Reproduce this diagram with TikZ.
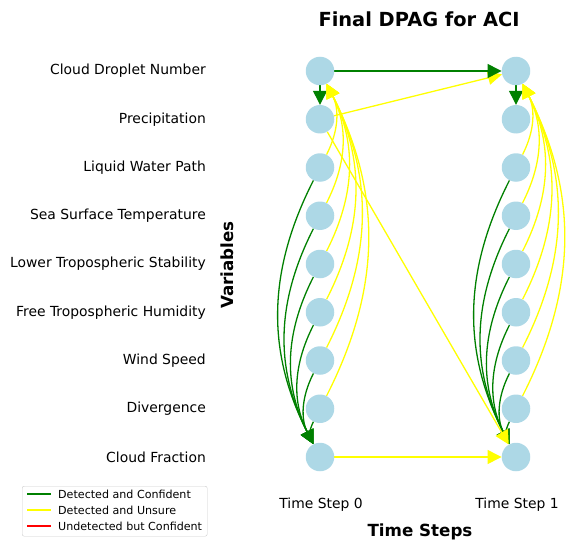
\documentclass[tikz,border=0pt]{standalone}
\usepackage{fontspec}
\setmainfont{DejaVu Sans}
\usetikzlibrary{arrows.meta}
\definecolor{nodeblue}{RGB}{173,216,230}
\definecolor{mplgreen}{RGB}{0,128,0}
\definecolor{mplyellow}{RGB}{255,255,0}
\definecolor{mplred}{RGB}{255,0,0}
\pgfdeclarelayer{bg}
\pgfsetlayers{bg,main}
\begin{document}
\begin{tikzpicture}[x=1pt,y=-1pt,
  vnode/.style={circle,fill=nodeblue,minimum size=28.5pt,inner sep=0pt},
  lab/.style={anchor=east,inner sep=0pt,font=\fontsize{13.9}{16}\selectfont},
  tick/.style={font=\fontsize{13.9}{16}\selectfont},
  axlab/.style={font=\bfseries\fontsize{16.7}{20}\selectfont},
  gedge/.style={draw=mplgreen,line width=1.3pt,-{Triangle[length=14pt,width=14pt]}},
  yedge/.style={draw=mplyellow,line width=1.3pt,-{Triangle[length=14pt,width=14pt]}},
  legline/.style={line width=2.5pt},
  legtext/.style={anchor=west,inner sep=0pt,font=\fontsize{11.1}{13}\selectfont}
]
\useasboundingbox (0,0) rectangle (584,551);
\node[font=\bfseries\fontsize{19.4}{23}\selectfont] (title) at (419,19) {Final DPAG for ACI};
\foreach \k/\txt in {0/Cloud Droplet Number,1/Precipitation,2/Liquid Water Path,3/Sea Surface Temperature,4/Lower Tropospheric Stability,5/Free Tropospheric Humidity,6/Wind Speed,7/Divergence,8/Cloud Fraction} {
  \node[vnode] (a\k) at (320,{71+48.25*\k}) {};
  \node[vnode] (b\k) at (516,{71+48.25*\k}) {};
  \node[lab] (l\k) at (206,{71+48.25*\k}) {\txt};
}
\begin{pgfonlayer}{bg}
\foreach \c in {a,b} {
  \draw[gedge] (\c0) -- (\c1);
  \foreach \k in {2,...,7} {
    \draw[gedge] (\c\k) to[bend right=27] (\c8);
    \draw[yedge] (\c\k) to[bend right=27] (\c0);
  }
}
\draw[yedge] (a1) -- (b8);
\draw[yedge] (a8) -- (b8);
\draw[yedge] (a1) -- (b0);
\draw[gedge] (a0) -- (b0);
\end{pgfonlayer}
\node[axlab,rotate=90] (ylab) at (227,265) {Variables};
\node[tick] (t0) at (321,505) {Time Step 0};
\node[tick] (t1) at (517,505) {Time Step 1};
\node[axlab] (xlab) at (420,532) {Time Steps};
\node[draw=black!20,fill=white,rounded corners=2pt,minimum width=185pt,minimum height=50pt,anchor=north west,inner sep=0pt] (leg) at (22,486) {};
\draw[legline,mplgreen] (27,494) -- (51,494);
\node[legtext] (lg1) at (58,494) {Detected and Confident};
\draw[legline,mplyellow] (27,510) -- (51,510);
\node[legtext] (lg2) at (58,510) {Detected and Unsure};
\draw[legline,mplred] (27,526) -- (51,526);
\node[legtext] (lg3) at (58,526) {Undetected but Confident};
\end{tikzpicture}
\end{document}
